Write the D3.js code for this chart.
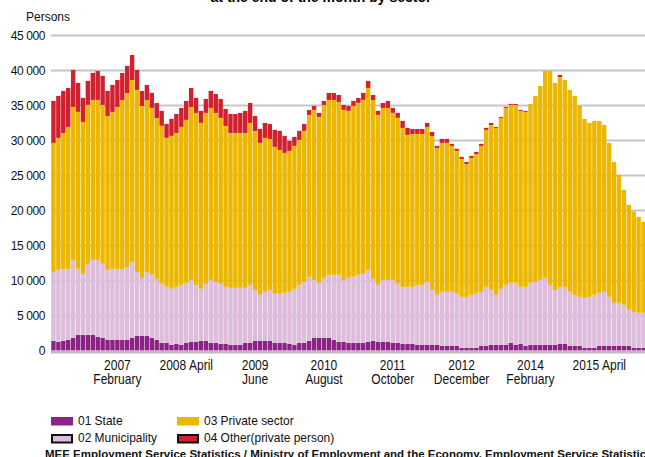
<!DOCTYPE html>
<html>
<head>
<meta charset="utf-8">
<script src="https://cdn.jsdelivr.net/npm/d3@7"></script>
<style>
  html, body { margin: 0; padding: 0; background: #fff; }
  svg { display: block; font-family: "Liberation Sans", Arial, sans-serif; }
</style>
</head>
<body>
<svg id="chart" width="645" height="457"></svg>
<script>
// Monthly series, Jan 2006 .. Jan 2016 (persons at month end)
var state = [
  1380, 1240, 1380, 1520, 1810, 2240, 2240, 2240, 2240, 1950, 1810, 1520,
  1520, 1520, 1520, 1520, 1810, 2090, 2090, 2090, 1810, 1520, 1100, 1100,
  810, 950, 810, 1100, 1240, 1240, 1380, 1380, 1100, 1100, 950, 950,
  810, 810, 810, 1100, 1100, 1380, 1380, 1380, 1380, 1100, 1100, 1100,
  950, 810, 1100, 1100, 1380, 1810, 1810, 1810, 1810, 1520, 1240, 1240,
  1100, 1100, 1100, 1100, 1240, 1380, 1240, 1240, 1240, 1100, 1100, 950,
  950, 950, 810, 810, 810, 810, 810, 670, 670, 670, 670, 380,
  380, 380, 380, 670, 670, 810, 810, 810, 810, 1100, 810, 950,
  670, 810, 810, 810, 810, 810, 810, 950, 950, 670, 670, 670,
  380, 380, 380, 670, 670, 670, 670, 670, 670, 670, 380, 380,
  380
];

var municipality = [
  9850, 10280, 10280, 10140, 11140, 9430, 8710, 10140, 10710, 11000, 10570, 10000,
  10140, 10140, 10140, 10420, 10850, 9140, 8280, 9140, 9000, 8710, 8430, 8000,
  8000, 8140, 8570, 8570, 8850, 8140, 7430, 8140, 9000, 8710, 8570, 8140,
  8140, 8140, 8140, 7850, 8280, 7280, 6570, 7000, 7280, 7000, 7000, 7140,
  7430, 8000, 8280, 8710, 9140, 8280, 7850, 8570, 9000, 9280, 9570, 8850,
  9280, 9430, 9710, 9850, 10280, 8850, 8140, 8850, 8850, 9000, 8430, 8140,
  8140, 8140, 8570, 8570, 9000, 7850, 7140, 7710, 7710, 7710, 7430, 7280,
  7280, 7570, 7850, 7710, 8430, 7850, 7140, 8000, 8570, 8570, 8850, 8140,
  8430, 8850, 9000, 9280, 9570, 8570, 7850, 8140, 8140, 7710, 7280, 7000,
  7140, 7280, 7570, 7570, 7710, 7000, 6140, 6140, 5850, 5140, 5140, 5000,
  5000
];

var privateSector = [
  18420, 18850, 19420, 20280, 21850, 22420, 21710, 22710, 22850, 22850, 22710, 21990,
  22420, 23130, 24130, 24850, 25990, 25990, 24560, 24560, 23850, 22990, 22560, 21280,
  21850, 21990, 22560, 23280, 24700, 24560, 23710, 24420, 24560, 24130, 23710, 22990,
  22130, 22130, 22130, 22130, 23130, 22710, 21710, 21990, 21560, 20990, 20560, 19990,
  20130, 20420, 20710, 21560, 23130, 24280, 23710, 24700, 24990, 24990, 24700, 24280,
  23850, 24420, 24560, 24850, 25990, 25560, 24280, 24560, 24560, 23850, 23710, 22710,
  21710, 21850, 21560, 21560, 22130, 21990, 20990, 21280, 21280, 20850, 20420, 19710,
  18990, 19560, 19850, 20850, 22420, 23560, 23850, 24420, 25280, 25420, 25420, 25130,
  24990, 25560, 26560, 27700, 29560, 30560, 29560, 29990, 29560, 28850, 28420, 27280,
  25560, 24850, 24850, 24560, 23850, 21990, 20130, 18280, 16420, 14990, 14330, 13710,
  13000
];

var other = [
  6000, 6000, 6000, 5570, 5280, 4140, 3430, 3430, 3860, 4140, 4140, 3570,
  3860, 3860, 3860, 3860, 3570, 2860, 2140, 2140, 2140, 2140, 2140, 2000,
  2430, 2710, 2710, 2710, 2710, 2140, 1710, 2000, 2430, 2710, 2710, 2430,
  2710, 2710, 2860, 3140, 2860, 2140, 2000, 2140, 2140, 2430, 2710, 2430,
  1430, 1290, 1290, 1000, 710, 570, 570, 570, 1000, 1000, 1000, 710,
  710, 710, 710, 1000, 1000, 710, 570, 710, 1000, 710, 710, 1000,
  1000, 710, 710, 710, 570, 570, 290, 570, 570, 290, 290, 290,
  290, 290, 290, 290, 290, 290, 140, 140, 140, 140, 140, 140,
  140, 0, 0, 0, 0, 0, 0, 290, 0, 0, 0, 0,
  0, 0, 0, 0, 0, 0, 0, 0, 0, 0, 0, 0,
  0
];

var seriesNames = ["01 State", "02 Municipality", "03 Private sector", "04 Other(private person)"];
var seriesColors = ["#8c2384", "#debddc", "#ebb700", "#d1202e"];

var yTicks = [0, 5000, 10000, 15000, 20000, 25000, 30000, 35000, 40000, 45000];

// x-axis labels: month key -> lines of text
var xLabels = [
  { month: "2007-02", lines: ["2007", "February"] },
  { month: "2008-04", lines: ["2008 April"] },
  { month: "2009-06", lines: ["2009", "June"] },
  { month: "2010-08", lines: ["2010", "August"] },
  { month: "2011-10", lines: ["2011", "October"] },
  { month: "2012-12", lines: ["2012", "December"] },
  { month: "2014-02", lines: ["2014", "February"] },
  { month: "2015-04", lines: ["2015 April"] }
];

var months = d3.timeMonth.range(new Date(2006, 0, 1), new Date(2016, 1, 1)).map(d3.timeFormat("%Y-%m"));

var svg = d3.select("#chart"),
    plotLeft = 51,
    plotRight = 646,
    plotBottom = 350.5,
    plotTop = 35.5;

var x = d3.scaleBand().domain(months).range([plotLeft, plotRight]).paddingInner(0.1).paddingOuter(0.05);
var y = d3.scaleLinear().domain([0, 45000]).range([plotBottom, plotTop]);

var rows = months.map(function(m, i) {
  return { month: m, s0: state[i], s1: municipality[i], s2: privateSector[i], s3: other[i] };
});
var stacked = d3.stack().keys(["s0", "s1", "s2", "s3"])(rows);

// title (mostly cut off at the top of the picture)
svg.append("text")
  .attr("x", 321).attr("y", 1.5)
  .attr("text-anchor", "middle")
  .style("font-weight", "bold").style("font-size", "14px")
  .text("at the end of the month by sector");

svg.append("text")
  .attr("x", 26).attr("y", 21)
  .style("font-size", "12px").attr("fill", "#111")
  .text("Persons");

// grid
svg.append("g").selectAll("line")
  .data(yTicks.filter(function(d) { return d > 0; }))
  .enter().append("line")
  .attr("x1", plotLeft).attr("x2", 645)
  .attr("y1", function(d) { return y(d); })
  .attr("y2", function(d) { return y(d); })
  .attr("stroke", "#c6c6c6").attr("stroke-width", 2);

// bars
svg.append("g").selectAll("g")
  .data(stacked)
  .enter().append("g")
  .attr("fill", function(d, i) { return seriesColors[i]; })
  .selectAll("rect")
  .data(function(d) { return d; })
  .enter().append("rect")
  .attr("x", function(d) { return x(d.data.month); })
  .attr("width", x.bandwidth())
  .attr("y", function(d) { return y(d[1]); })
  .attr("height", function(d) { return Math.max(0, y(d[0]) - y(d[1])); });

// baseline
svg.append("line")
  .attr("x1", plotLeft).attr("x2", 645)
  .attr("y1", 352.2).attr("y2", 352.2)
  .attr("stroke", "#bdbdbd").attr("stroke-width", 2.5);

// y axis labels
var fmt = d3.formatLocale({ decimal: ".", thousands: " ", grouping: [3], currency: ["", ""] }).format(",");
var yAxis = svg.append("g")
  .attr("transform", "translate(45,0)")
  .call(d3.axisLeft(y).tickValues(yTicks).tickFormat(fmt).tickSize(0).tickPadding(0));
yAxis.select(".domain").remove();
yAxis.selectAll("text")
  .style("font-family", "'Liberation Sans', Arial, sans-serif")
  .style("font-size", "12px").style("letter-spacing", "-0.4px")
  .attr("fill", "#111").attr("dy", "0.3em");

// x axis labels
var xAxis = svg.append("g")
  .attr("transform", "translate(0,370)")
  .call(d3.axisBottom(x).tickValues(xLabels.map(function(d) { return d.month; })).tickSize(0).tickFormat(""));
xAxis.select(".domain").remove();
xAxis.selectAll(".tick text").remove();
xAxis.selectAll(".tick").each(function(m) {
  var lbl = xLabels.filter(function(d) { return d.month === m; })[0];
  var t = d3.select(this).append("text")
    .attr("transform", "scale(0.86,1)")
    .attr("text-anchor", "middle")
    .attr("fill", "#111")
    .style("font-family", "'Liberation Sans', Arial, sans-serif")
    .style("font-size", "14px");
  lbl.lines.forEach(function(line, k) {
    t.append("tspan").attr("x", 0).attr("y", k * 14.5).text(line);
  });
});

// legend
var legend = [
  { i: 0, x: 51, y: 417, border: false },
  { i: 2, x: 177, y: 417, border: false },
  { i: 1, x: 51, y: 434, border: true },
  { i: 3, x: 177, y: 434, border: true }
];
var lg = svg.append("g").selectAll("g").data(legend).enter().append("g");
lg.append("rect")
  .attr("x", function(d) { return d.border ? d.x + 1 : d.x; })
  .attr("y", function(d) { return d.border ? d.y + 1 : d.y; })
  .attr("width", function(d) { return d.border ? 20 : 22; })
  .attr("height", function(d) { return d.border ? 7.5 : 8.5; })
  .attr("fill", function(d) { return seriesColors[d.i]; })
  .attr("stroke", function(d) { return d.border ? "#111" : "none"; })
  .attr("stroke-width", 2);
lg.append("text")
  .attr("transform", function(d) { return "translate(" + (d.x + 27) + "," + (d.y + 8.3) + ") scale(0.92,1)"; })
  .style("font-size", "13px").attr("fill", "#111")
  .text(function(d) { return seriesNames[d.i]; });

svg.append("text")
  .attr("transform", "translate(45,457.5)")
  .style("font-weight", "bold").style("font-size", "11.5px").attr("fill", "#111")
  .text("MEE Employment Service Statistics / Ministry of Employment and the Economy, Employment Service Statistics");
</script>
</body>
</html>
